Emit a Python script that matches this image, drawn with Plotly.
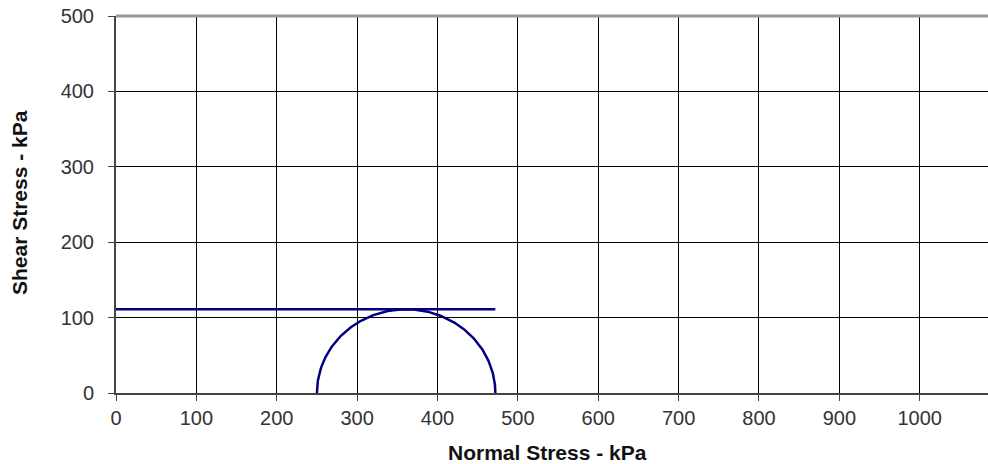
import numpy as np
import plotly.graph_objects as go

# Mohr circle data (kPa)
sigma3 = 250
sigma1 = 472
tau_line_x = [0, 472]
tau_line_y = [111, 111]
x_ticks = [0, 100, 200, 300, 400, 500, 600, 700, 800, 900, 1000]
y_ticks = [0, 100, 200, 300, 400, 500]

center = (sigma1 + sigma3) / 2
radius = (sigma1 - sigma3) / 2
theta = np.linspace(np.pi, 0, 181)
cx = center + radius * np.cos(theta)
cy = radius * np.sin(theta)

navy = "#000080"
fig = go.Figure()
fig.add_trace(go.Scatter(x=tau_line_x, y=tau_line_y, mode="lines",
                         line=dict(color=navy, width=2.5), showlegend=False))
fig.add_trace(go.Scatter(x=cx, y=cy, mode="lines",
                         line=dict(color=navy, width=2.5), showlegend=False))

font = "Liberation Sans, Arial, sans-serif"
fig.update_layout(
    width=988, height=464,
    margin=dict(l=116, r=0, t=16, b=71, autoexpand=False),
    paper_bgcolor="white", plot_bgcolor="white",
    font=dict(family=font, size=20, color="#222"),
    xaxis=dict(range=[0, 1085], tickvals=x_ticks, showgrid=True, gridcolor="#000",
               gridwidth=1, showline=True, linecolor="#444", linewidth=2,
               ticks="outside", ticklen=6, tickcolor="#444", zeroline=False,
               automargin=False, tickfont=dict(size=20, color="#333")),
    yaxis=dict(range=[0, 500], tickvals=y_ticks, showgrid=True, gridcolor="#000",
               gridwidth=1, showline=True, linecolor="#444", linewidth=2,
               ticks="outside", ticklen=6, tickcolor="#444", zeroline=False,
               automargin=False, ticklabelstandoff=10,
               tickfont=dict(size=20, color="#333")),
    annotations=[
        dict(text="<b>Normal Stress - kPa</b>", xref="paper", yref="paper",
             x=(547 - 116) / (988 - 116), y=-(452 - 393) / (393 - 16),
             xanchor="center", yanchor="middle", showarrow=False,
             font=dict(size=21, color="#111", family=font)),
        dict(text="<b>Shear Stress - kPa</b>", xref="paper", yref="paper",
             x=-(116 - 19) / (988 - 116), y=(393 - 203) / (393 - 16),
             xanchor="center", yanchor="middle", showarrow=False, textangle=-90,
             font=dict(size=21, color="#111", family=font)),
    ],
)
fig.add_shape(type="line", xref="paper", yref="paper", x0=0, x1=1, y0=1, y1=1,
              line=dict(color="#999", width=3))
fig.write_html("out.html", config={"displayModeBar": False},
               post_script="document.body.style.margin='0';document.body.style.padding='0';")
